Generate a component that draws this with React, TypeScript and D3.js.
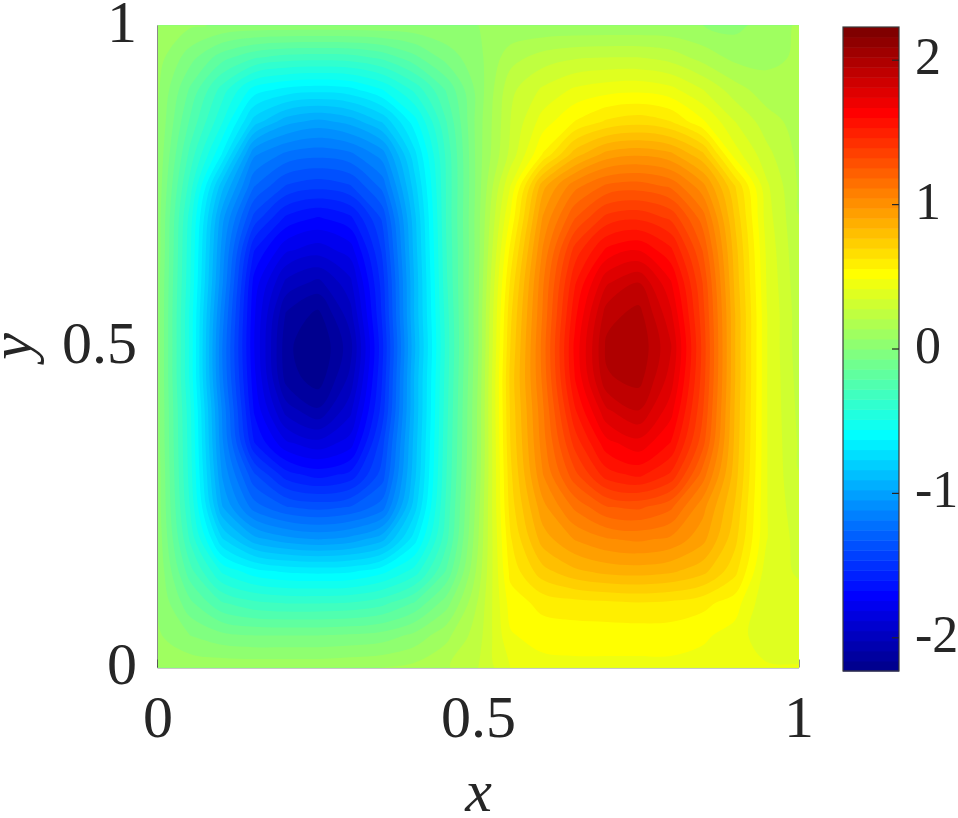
import React, { useEffect, useRef } from 'react';
import * as d3 from 'd3';

// sample positions of the field
const xs = [0, 0.05, 0.1, 0.15, 0.2, 0.25, 0.3, 0.35, 0.4, 0.45, 0.5, 0.55, 0.6, 0.65, 0.7, 0.75, 0.8, 0.85, 0.9, 0.95, 1];
// rows go top -> bottom
const ys = [1, 0.95, 0.9, 0.85, 0.8, 0.75, 0.7, 0.65, 0.6, 0.55, 0.5, 0.45, 0.4, 0.35, 0.3, 0.25, 0.2, 0.15, 0.1, 0.05, 0];

// estimated values, one row per y above
const field = [
  [0.12, 0.08, 0.06, 0.05, 0.05, 0.05, 0.05, 0.05, 0.05, 0.06, 0.07, 0.08, 0.08, 0.08, 0.08, 0.08, 0.08, 0.07, 0.05, 0.10, 0.15],
  [0.10, -0.04, -0.18, -0.27, -0.31, -0.32, -0.31, -0.26, -0.16, -0.04, 0.05, 0.18, 0.24, 0.27, 0.28, 0.28, 0.25, 0.18, 0.12, 0.12, 0.15],
  [0.08, -0.15, -0.38, -0.59, -0.65, -0.67, -0.65, -0.56, -0.40, -0.20, 0.03, 0.26, 0.36, 0.43, 0.46, 0.47, 0.44, 0.35, 0.24, 0.17, 0.17],
  [0.07, -0.22, -0.48, -0.80, -0.95, -1.00, -0.95, -0.83, -0.59, -0.28, 0.04, 0.28, 0.45, 0.56, 0.64, 0.67, 0.63, 0.50, 0.35, 0.24, 0.18],
  [0.06, -0.30, -0.63, -1.10, -1.20, -1.23, -1.20, -1.08, -0.72, -0.33, 0.04, 0.30, 0.56, 0.80, 0.93, 0.96, 0.92, 0.78, 0.45, 0.30, 0.19],
  [0.05, -0.38, -0.88, -1.25, -1.40, -1.44, -1.40, -1.23, -0.80, -0.34, 0.04, 0.42, 0.88, 1.09, 1.20, 1.22, 1.17, 1.00, 0.70, 0.36, 0.20],
  [0.04, -0.45, -1.02, -1.42, -1.62, -1.68, -1.62, -1.38, -0.86, -0.34, 0.05, 0.50, 0.98, 1.25, 1.42, 1.45, 1.38, 1.15, 0.76, 0.38, 0.21],
  [0.04, -0.47, -1.07, -1.60, -1.80, -1.85, -1.78, -1.45, -0.88, -0.35, 0.05, 0.58, 1.05, 1.42, 1.62, 1.67, 1.55, 1.25, 0.80, 0.40, 0.22],
  [0.03, -0.48, -1.10, -1.70, -1.97, -2.04, -1.90, -1.50, -0.90, -0.36, 0.06, 0.64, 1.10, 1.52, 1.80, 1.88, 1.68, 1.32, 0.82, 0.41, 0.23],
  [0.03, -0.50, -1.15, -1.73, -2.10, -2.18, -1.98, -1.52, -0.90, -0.38, 0.07, 0.68, 1.12, 1.58, 1.92, 1.98, 1.76, 1.35, 0.84, 0.42, 0.24],
  [0.03, -0.50, -1.18, -1.74, -2.14, -2.23, -2.05, -1.55, -0.92, -0.39, 0.07, 0.70, 1.14, 1.62, 1.97, 2.01, 1.82, 1.37, 0.84, 0.42, 0.24],
  [0.03, -0.50, -1.17, -1.72, -2.12, -2.20, -2.00, -1.53, -0.90, -0.38, 0.08, 0.72, 1.13, 1.60, 1.94, 1.98, 1.78, 1.36, 0.84, 0.42, 0.25],
  [0.03, -0.47, -1.12, -1.68, -1.98, -2.08, -1.90, -1.50, -0.90, -0.37, 0.09, 0.71, 1.10, 1.52, 1.80, 1.88, 1.70, 1.33, 0.83, 0.42, 0.26],
  [0.03, -0.46, -1.10, -1.60, -1.80, -1.86, -1.78, -1.42, -0.88, -0.36, 0.09, 0.70, 1.08, 1.42, 1.65, 1.72, 1.60, 1.28, 0.82, 0.42, 0.27],
  [0.04, -0.45, -1.05, -1.38, -1.57, -1.63, -1.58, -1.36, -0.86, -0.35, 0.10, 0.68, 1.04, 1.30, 1.50, 1.55, 1.45, 1.15, 0.80, 0.42, 0.28],
  [0.04, -0.42, -0.97, -1.22, -1.32, -1.35, -1.32, -1.22, -0.80, -0.33, 0.12, 0.66, 0.95, 1.13, 1.25, 1.27, 1.20, 1.00, 0.76, 0.42, 0.30],
  [0.05, -0.36, -0.76, -0.95, -1.02, -1.05, -1.02, -0.93, -0.66, -0.30, 0.14, 0.62, 0.87, 0.98, 1.04, 1.06, 1.03, 0.93, 0.72, 0.42, 0.32],
  [0.06, -0.25, -0.50, -0.60, -0.64, -0.65, -0.64, -0.58, -0.46, -0.20, 0.17, 0.58, 0.74, 0.82, 0.86, 0.87, 0.85, 0.79, 0.65, 0.38, 0.34],
  [0.07, -0.12, -0.27, -0.33, -0.35, -0.35, -0.34, -0.30, -0.20, -0.03, 0.22, 0.52, 0.58, 0.60, 0.61, 0.62, 0.61, 0.58, 0.52, 0.36, 0.37],
  [0.08, 0.00, -0.05, -0.07, -0.07, -0.07, -0.06, -0.04, 0.02, 0.12, 0.25, 0.48, 0.52, 0.52, 0.52, 0.52, 0.52, 0.50, 0.46, 0.36, 0.40],
  [0.12, 0.12, 0.12, 0.12, 0.12, 0.12, 0.13, 0.14, 0.16, 0.20, 0.28, 0.42, 0.46, 0.47, 0.47, 0.47, 0.47, 0.46, 0.45, 0.43, 0.42],
];

const xTicks = [0, 0.5, 1];
const yTicks = [0, 0.5, 1];
const cTicks = [-2, -1, 0, 1, 2];
const cRange: [number, number] = [-2.23, 2.23];
const nLevels = 64;

// matlab jet, one colour per level
const jet = (t: number) => {
  const c = (v: number) => Math.round(255 * Math.max(0, Math.min(1, v)));
  return d3.rgb(c(1.5 - Math.abs(4 * t - 3)), c(1.5 - Math.abs(4 * t - 2)), c(1.5 - Math.abs(4 * t - 1))).formatHex();
};
const jetColors = d3.range(1, nLevels + 1).map(k => jet(k / nLevels));

const font = "'Liberation Serif', 'DejaVu Serif', serif";
const ink = '#262626';

export default function App() {
  const ref = useRef<SVGSVGElement>(null);

  useEffect(() => {
    const svg = d3.select(ref.current);
    svg.selectAll('*').remove();

    // plot box
    const left = 158, right = 799, top = 25.5, bottom = 667.5;
    const x = d3.scaleLinear().domain([0, 1]).range([left, right]);
    const y = d3.scaleLinear().domain([0, 1]).range([bottom, top]);

    const nx = xs.length, ny = ys.length;
    const step = (cRange[1] - cRange[0]) / nLevels;
    const thresholds = d3.range(nLevels).map(k => cRange[0] + k * step);
    const color = d3.scaleQuantize<string>().domain(cRange).range(jetColors);

    // contour grid coords -> data coords (sample i sits at i + 0.5)
    const gx = d3.scaleLinear().domain([0.5, nx - 0.5]).range([xs[0], xs[nx - 1]]);
    const gy = d3.scaleLinear().domain([0.5, ny - 0.5]).range([ys[0], ys[ny - 1]]);

    const bands = d3.contours().size([nx, ny]).thresholds(thresholds)(field.flat());

    // draw each ring as a smooth closed curve instead of straight facets
    const ringLine = d3.line().curve(d3.curveCatmullRomClosed.alpha(0.5));
    const bandPath = (mp: any) =>
      mp.coordinates.map((poly: number[][][]) =>
        poly.map(ring => {
          const pts = ring.slice(0, -1).map(([px, py]) => [x(gx(px)), y(gy(py))] as [number, number]);
          return ringLine(pts) || '';
        }).join('')
      ).join('');

    svg.append('defs').append('clipPath').attr('id', 'plotclip')
      .append('rect')
      .attr('x', left).attr('y', top)
      .attr('width', right - left).attr('height', bottom - top);

    //axes sit under the fill like matlab's default layer
    const axes = svg.append('g');
    axes.append('line')
      .attr('x1', left - 0.5).attr('x2', left - 0.5).attr('y1', top).attr('y2', bottom)
      .attr('stroke', '#8a8a8a').attr('stroke-width', 1);
    axes.append('line')
      .attr('x1', left - 0.5).attr('x2', right).attr('y1', bottom).attr('y2', bottom)
      .attr('stroke', ink).attr('stroke-width', 1.4);
    axes.selectAll('.xt').data(xTicks).enter().append('line')
      .attr('x1', d => x(d)).attr('x2', d => x(d)).attr('y1', bottom).attr('y2', bottom - 8)
      .attr('stroke', ink);
    axes.selectAll('.yt').data(yTicks).enter().append('line')
      .attr('x1', left - 0.5).attr('x2', left + 8).attr('y1', d => y(d)).attr('y2', d => y(d))
      .attr('stroke', '#8a8a8a');

    // filled contours, lowest level first
    svg.append('g').attr('clip-path', 'url(#plotclip)')
      .selectAll('path')
      .data(bands)
      .enter().append('path')
      .attr('d', d => bandPath(d))
      .attr('fill-rule', 'evenodd')
      .attr('fill', d => color(d.value + step / 2))
      .attr('stroke', 'none');

    // tick labels
    svg.append('g').selectAll('text').data(xTicks).enter().append('text')
      .attr('x', d => x(d)).attr('y', 737)
      .attr('text-anchor', 'middle')
      .attr('font-family', font).attr('font-size', 60).attr('fill', ink)
      .text(d => d3.format('')(d));

    svg.append('g').selectAll('text').data(yTicks).enter().append('text')
      .attr('x', 137).attr('y', d => y(d) + 16)
      .attr('text-anchor', 'end')
      .attr('font-family', font).attr('font-size', 60).attr('fill', ink)
      .text(d => d3.format('')(d));

    // axis titles
    svg.append('text')
      .attr('x', x(0.5)).attr('y', 811)
      .attr('text-anchor', 'middle')
      .attr('font-family', font).attr('font-style', 'italic').attr('font-size', 60).attr('fill', ink)
      .text('x');
    svg.append('text')
      .attr('transform', `translate(31, ${y(0.5)}) rotate(-90)`)
      .attr('text-anchor', 'middle')
      .attr('font-family', font).attr('font-style', 'italic').attr('font-size', 60).attr('fill', ink)
      .text('y');

    // colorbar
    const cbLeft = 843, cbRight = 899;
    const cy = d3.scaleLinear().domain(cRange).range([671, 27]);
    const cb = svg.append('g');
    cb.selectAll('rect').data(thresholds).enter().append('rect')
      .attr('x', cbLeft).attr('width', cbRight - cbLeft)
      .attr('y', d => cy(d + step))
      .attr('height', d => cy(d) - cy(d + step) + 0.5)
      .attr('fill', d => color(d + step / 2));
    cb.append('rect')
      .attr('x', cbLeft).attr('y', cy(cRange[1]))
      .attr('width', cbRight - cbLeft).attr('height', cy(cRange[0]) - cy(cRange[1]))
      .attr('fill', 'none').attr('stroke', '#3a3a3a').attr('stroke-width', 1.2);
    cb.selectAll('.ct').data(cTicks).enter().append('line')
      .attr('x1', cbRight - 7).attr('x2', cbRight).attr('y1', d => cy(d)).attr('y2', d => cy(d))
      .attr('stroke', ink).attr('stroke-width', 1.2);
    cb.selectAll('text').data(cTicks).enter().append('text')
      .attr('x', 915).attr('y', d => cy(d) + 14)
      .attr('font-family', font).attr('font-size', 52).attr('fill', ink)
      .text(d => String(d));
  }, []);

  return (
    <svg ref={ref} width={958} height={818}
      style={{ position: 'absolute', left: 0, top: 0, background: '#fff' }} />
  );
}
